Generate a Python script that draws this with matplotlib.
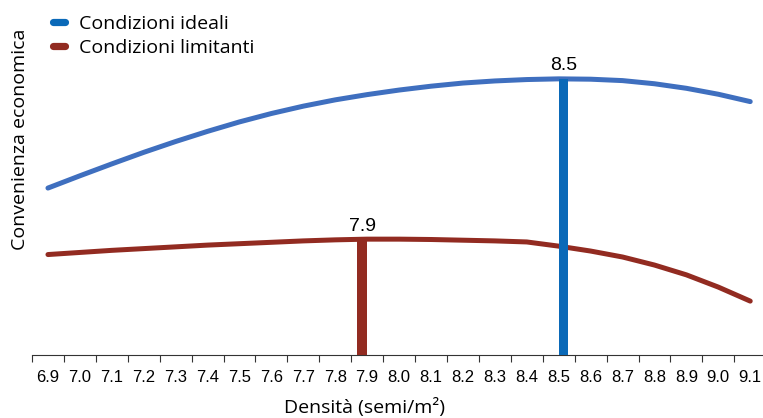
import numpy as np
import matplotlib.pyplot as plt
from matplotlib.lines import Line2D

# densita' (semi/m2) e convenienza economica (unita' arbitrarie)
densita = [6.9, 7.0, 7.1, 7.2, 7.3, 7.4, 7.5, 7.6, 7.7, 7.8, 7.9, 8.0,
           8.1, 8.2, 8.3, 8.4, 8.5, 8.6, 8.7, 8.8, 8.9, 9.0, 9.1]
ideali = [47.7, 51.2, 54.6, 57.9, 61.0, 63.9, 66.6, 69.0, 71.1, 72.9, 74.4, 75.7,
          76.8, 77.7, 78.3, 78.7, 78.9, 78.8, 78.4, 77.5, 76.2, 74.5, 72.4]
limitanti = [28.7, 29.3, 29.9, 30.4, 30.9, 31.4, 31.8, 32.2, 32.6, 32.9, 33.1, 33.1,
             33.0, 32.8, 32.6, 32.3, 31.1, 29.7, 28.0, 25.7, 22.9, 19.4, 15.4]
tick_labels = ["%.1f" % d for d in densita]

# ottimi
opt_x = [7.885, 8.515]
opt_y = [33.1, 78.9]
opt_lab = ["7.9", "8.5"]

c_ideali = "#3F6FBF"
c_bar_ideali = "#0A69B8"
c_limit = "#922B21"

plt.rcParams['font.family'] = ['Liberation Sans', 'DejaVu Sans']
lab_font = ['Open Sans', 'DejaVu Sans']

fig = plt.figure(figsize=(7.63, 4.18), dpi=100)
ax = fig.add_axes([32/763, 63/418, 731/763, 350/418])

ax.plot(densita, ideali, color=c_ideali, lw=3.6, solid_capstyle="round")
ax.plot(densita, limitanti, color=c_limit, lw=3.6, solid_capstyle="round")

ax.bar(opt_x, opt_y, width=0.031, color=[c_limit, c_bar_ideali], zorder=3)
for x, y, t in zip(opt_x, opt_y, opt_lab):
    ax.text(x, y + 1.3, t, ha="center", va="bottom", fontsize=14)

ax.set_xlim(6.85, 9.14)
ax.set_ylim(0, 100)
ax.set_xticks(np.arange(6.85, 9.1, 0.1))
ax.set_xticklabels([])
ax.set_xticks(densita, minor=True)
ax.set_xticklabels(tick_labels, minor=True, fontsize=12)
ax.tick_params(axis="x", which="major", length=5, width=0.8, color="#333333")
ax.tick_params(axis="x", which="minor", length=0, pad=11)
ax.set_yticks([])
for s in ["left", "right", "top"]:
    ax.spines[s].set_visible(False)
ax.spines["bottom"].set_color("#333333")

ax.set_xlabel("Densità (semi/m²)", fontsize=14, family=lab_font)
ax.xaxis.set_label_coords((365 - 32) / 731, -0.122)
ax.set_ylabel("Convenienza economica", fontsize=14, family=lab_font)
ax.yaxis.set_label_coords(-0.004, 0.615)

handles = [Line2D([], [], color=c_bar_ideali, lw=5.2, solid_capstyle="round"),
           Line2D([], [], color=c_limit, lw=5.2, solid_capstyle="round")]
fig.legend(handles, ["Condizioni ideali", "Condizioni limitanti"],
           loc="upper left", bbox_to_anchor=(0.047, 1.006), frameon=False,
           prop={'family': lab_font, 'size': 14}, handlelength=0.6,
           handletextpad=0.7, labelspacing=0.3)

fig.savefig("out.png", dpi=100)
